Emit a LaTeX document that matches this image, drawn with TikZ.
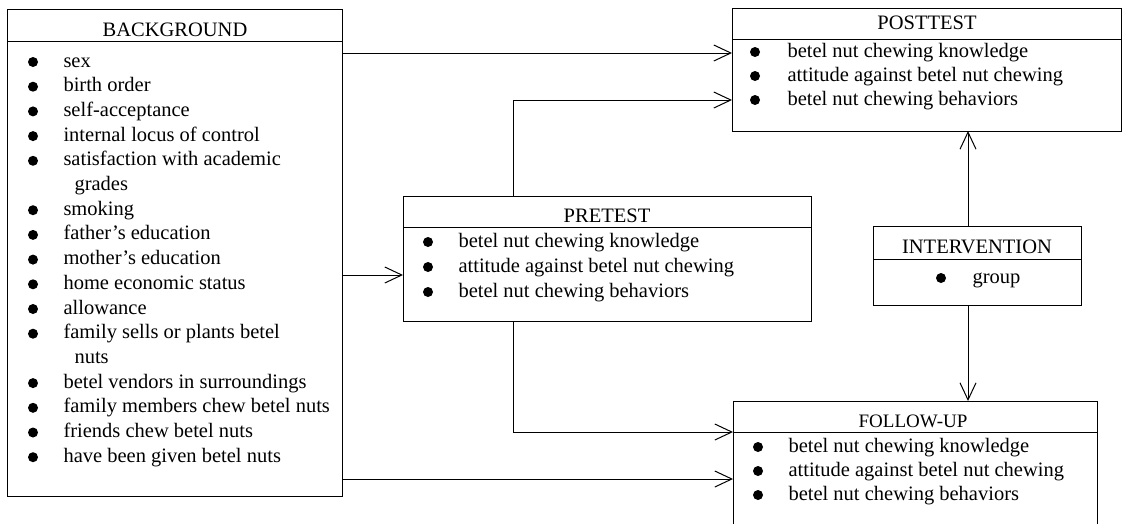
\documentclass[tikz,border=0pt]{standalone}
\usepackage{fontspec}
\setmainfont{Liberation Serif}
\usetikzlibrary{arrows.meta}
\begin{document}
\begin{tikzpicture}[x=1pt,y=-1pt,line width=1pt,
  box/.style={draw,rectangle,anchor=north west,inner sep=0pt,outer sep=0pt},
  ttl/.style={font=\fontsize{20.5}{24}\selectfont,inner sep=0pt},
  itm/.style={font=\fontsize{20.5}{24}\selectfont,anchor=base west,inner sep=0pt},
  dot/.style={radius=5pt},
  arr/.style={-{Straight Barb[length=17pt,width=16pt,line width=1pt]}}]
\useasboundingbox (0,0) rectangle (1123,523);

% boxes
\node[box,minimum width=335pt,minimum height=487pt] (bg) at (7,9) {};
\node[box,minimum width=408pt,minimum height=125pt] (pre) at (403,196) {};
\node[box,minimum width=389pt,minimum height=123pt] (post) at (732,8) {};
\node[box,minimum width=208pt,minimum height=79pt] (iv) at (873,226) {};
\node[box,minimum width=364pt,minimum height=140pt] (fu) at (733,401) {};

% header lines
\draw (bg.west |- 0,41) -- (bg.east |- 0,41);
\draw (pre.west |- 0,227) -- (pre.east |- 0,227);
\draw (post.west |- 0,39) -- (post.east |- 0,39);
\draw (iv.west |- 0,259) -- (iv.east |- 0,259);
\draw (fu.west |- 0,432) -- (fu.east |- 0,432);

% titles
\node[ttl] (bgt) at (175,30) {BACKGROUND};
\node[ttl] (pret) at (607,216) {PRETEST};
\node[ttl] (postt) at (927,23) {POSTTEST};
\node[ttl] (ivt) at (977,247) {INTERVENTION};
\node[ttl,font=\fontsize{19}{22}\selectfont] (fut) at (913,421) {FOLLOW-UP};

% background items
\foreach \t/\b [count=\i from 0] in {sex/1,birth order/1,self-acceptance/1,internal locus of control/1,satisfaction with academic/1,grades/0,smoking/1,father's education/1,mother's education/1,home economic status/1,allowance/1,family sells or plants betel/1,nuts/0,betel vendors in surroundings/1,family members chew betel nuts/1,friends chew betel nuts/1,have been given betel nuts/1}{
  \pgfmathsetmacro\yy{62+24.7*\i}
  \ifnum\b=1
    \fill (33,\yy) circle[dot];
    \node[itm] (bgi\i) at (63,\yy+5) {\t};
  \else
    \node[itm] (bgi\i) at (74,\yy+5) {\t};
  \fi
}

% test items
\foreach \t [count=\i from 0] in {betel nut chewing knowledge,attitude against betel nut chewing,betel nut chewing behaviors}{
  \pgfmathsetmacro\ya{242+25*\i}
  \fill (428,\ya) circle[dot];
  \node[itm] (prei\i) at (458,\ya+5) {\t};
  \pgfmathsetmacro\yb{52+24*\i}
  \fill (755,\yb) circle[dot];
  \node[itm] (posti\i) at (787,\yb+5) {\t};
  \pgfmathsetmacro\yc{447+24*\i}
  \fill (758,\yc) circle[dot];
  \node[itm] (fui\i) at (788,\yc+5) {\t};
}
\fill (941,278) circle[dot];
\node[itm] (ivi) at (972,283) {group};

% connector coordinates
\coordinate (a1) at (0,53);
\coordinate (a2) at (0,100);
\coordinate (a3) at (0,275);
\coordinate (a4) at (0,432);
\coordinate (a5) at (0,479);
\coordinate (vx) at (513,0);
\coordinate (ix) at (968,0);

% connectors
\draw[arr] (bg.east |- a1) -- (post.west |- a1);
\draw[arr] (pre.north -| vx) |- (post.west |- a2);
\draw[arr] (bg.east |- a3) -- (pre.west |- a3);
\draw[arr] (pre.south -| vx) |- (fu.west |- a4);
\draw[arr] (bg.east |- a5) -- (fu.west |- a5);
\draw[arr] (iv.north -| ix) -- (post.south -| ix);
\draw[arr] (iv.south -| ix) -- (fu.north -| ix);
\end{tikzpicture}
\end{document}
